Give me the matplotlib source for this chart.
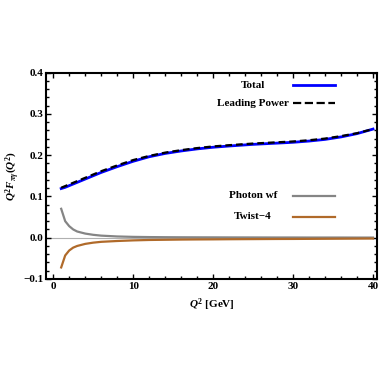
import matplotlib
matplotlib.use("Agg")
import matplotlib.pyplot as plt
import numpy as np
from matplotlib.ticker import MultipleLocator

plt.rcParams['font.family'] = ['Liberation Serif', 'DejaVu Serif']
plt.rcParams['font.weight'] = 'bold'
plt.rcParams['mathtext.fontset'] = 'custom'
plt.rcParams['mathtext.rm'] = 'Liberation Serif:bold'
plt.rcParams['mathtext.it'] = 'Liberation Serif:italic:bold'
plt.rcParams['mathtext.bf'] = 'Liberation Serif:bold'

# Data
q2 = [1, 1.5, 2, 2.5, 3, 4, 5, 6, 8, 10, 12, 14, 16, 18, 20, 22, 25, 28, 30, 32, 34, 36, 38, 40]
total = [0.119, 0.122, 0.126, 0.130, 0.134, 0.142, 0.150, 0.158, 0.172, 0.185, 0.196, 0.204, 0.210,
         0.215, 0.219, 0.222, 0.226, 0.229, 0.231, 0.234, 0.238, 0.244, 0.252, 0.263]
leading = [0.121, 0.125, 0.129, 0.133, 0.137, 0.145, 0.153, 0.161, 0.175, 0.188, 0.198, 0.206, 0.212,
           0.217, 0.221, 0.224, 0.228, 0.231, 0.233, 0.236, 0.240, 0.246, 0.253, 0.263]
photon = [0.070, 0.040, 0.028, 0.020, 0.015, 0.010, 0.007, 0.005, 0.003, 0.002, 0.0015, 0.0012,
          0.0010, 0.0009, 0.0008, 0.0007, 0.0006, 0.0005, 0.0005, 0.0004, 0.0004, 0.0004, 0.0003, 0.0003]
twist4 = [-0.072, -0.043, -0.031, -0.024, -0.020, -0.015, -0.012, -0.010, -0.008, -0.0065, -0.0055,
          -0.005, -0.0045, -0.0042, -0.004, -0.0037, -0.0034, -0.0031, -0.003, -0.0028, -0.0026,
          -0.0024, -0.0022, -0.002]
ytick_vals = [-0.1, 0.0, 0.1, 0.2, 0.3, 0.4]
ytick_labels = ['\u22120.1', '0.0', '0.1', '0.2', '0.3', '0.4']

fig = plt.figure(figsize=(3.82, 3.82), dpi=100)
ax = fig.add_axes([46/382, 1-279/382, 331/382, 206.5/382])

ax.axhline(0, color='#b0b0b0', lw=0.8, zorder=0)
l_total, = ax.plot(q2, total, color='#0000ff', lw=2.0, zorder=3)
l_lp, = ax.plot(q2, leading, color='black', lw=1.6, ls=(0, (3, 1.8)), zorder=4)
l_ph, = ax.plot(q2, photon, color='#858585', lw=1.6, zorder=3)
l_tw, = ax.plot(q2, twist4, color='#b06a2a', lw=1.6, zorder=3)

ax.set_xlim(-0.9, 40.5)
ax.set_ylim(-0.1, 0.4)
ax.xaxis.set_major_locator(MultipleLocator(10))
ax.xaxis.set_minor_locator(MultipleLocator(2))
ax.yaxis.set_minor_locator(MultipleLocator(0.02))
ax.set_yticks(ytick_vals)
ax.set_yticklabels(ytick_labels)
ax.tick_params(which='both', direction='in', top=True, right=True, labelsize=8, width=1.0, pad=2)
ax.tick_params(which='major', length=3.5)
ax.tick_params(which='minor', length=2)
for s in ax.spines.values():
    s.set_linewidth(1.5)

ax.set_xlabel(r'$Q^{2}$ [GeV]', fontsize=8, fontweight='bold', labelpad=4)
ax.set_ylabel(r'$Q^{2}F_{\pi\gamma}(Q^{2})$', fontsize=8)
ax.yaxis.set_label_coords(-0.073, 0.5)

# Legend-like labels
entries = [("Total", 0.939, l_total), ("Leading Power", 0.852, l_lp),
           ("Photon wf", 0.402, l_ph), ("Twist\u22124", 0.302, l_tw)]
for txt, yy, ln in entries:
    ax.text(0.625, yy, txt, transform=ax.transAxes, ha='center', va='center',
            fontsize=8, fontweight='bold')
    ax.plot([0.746, 0.873], [yy, yy], transform=ax.transAxes, color=ln.get_color(),
            lw=ln.get_linewidth(), ls=ln.get_linestyle(), clip_on=False)

fig.savefig('out.png', dpi=100)
